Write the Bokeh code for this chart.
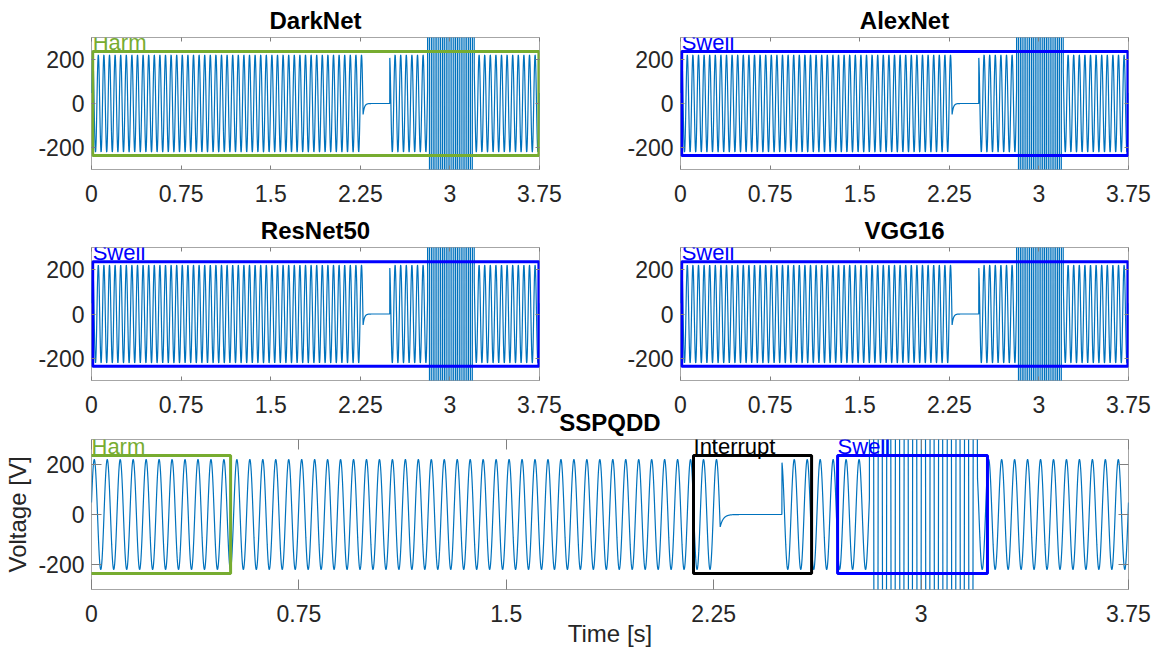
import numpy as np
from bokeh.plotting import figure
from bokeh.models import (Label, FixedTicker, NumeralTickFormatter, LinearAxis,
                          CustomJSTickFormatter, ColumnDataSource)
from bokeh.layouts import column, row
from bokeh.embed import file_html
from bokeh.resources import INLINE

# ---------------- data ----------------
t_end = 3.75                 # length of the record (s, axis units)
n_cycles = 80                # cycles of the fundamental over the record
amplitude = 220              # peak voltage (V)
phase0 = 0.22                # phase at t = 0 (rad)
interrupt_window = [2.2735, 2.497]   # interruption start / end (s)
interrupt_tau = 0.011                # decay of the transient (s)
swell_window = [2.813, 3.204]        # swell start / end (s)
swell_amplitude = 4000               # swell peak (V), far beyond the axis
swell_freq_ratio = 1.5               # swell frequency / fundamental

x_ticks = [0, 0.75, 1.5, 2.25, 3, 3.75]
y_ticks = [-200, 0, 200]

model_titles = ["DarkNet", "AlexNet", "ResNet50", "VGG16"]
model_labels = ["Harm", "Swell", "Swell", "Swell"]
model_box_start = [0.01, 0.01, 0.01, 0.01]
model_box_end = [3.745, 3.745, 3.745, 3.745]

truth_title = "SSPQDD"
truth_labels = ["Harm", "Interrupt", "Swell"]
truth_box_start = [-0.054, 2.177, 2.698]
truth_box_end = [0.503, 2.604, 3.240]

box_low, box_high = -236, 236
label_level = 242

class_colors = {"Harm": "#77AC30", "Swell": "#0000FF", "Interrupt": "#000000"}

# ---------------- signal ----------------
dt = 0.0005
t = np.arange(0, t_end + dt / 2, dt)
t = np.unique(np.concatenate([t, interrupt_window, swell_window]))
f0 = n_cycles / t_end
base = amplitude * np.sin(2 * np.pi * f0 * t + phase0)
v = base.copy()
t1, t2 = interrupt_window
m = (t >= t1) & (t < t2)
v1 = amplitude * np.sin(2 * np.pi * f0 * t1 + phase0)
v[m] = v1 * np.exp(-(t[m] - t1) / interrupt_tau)
ts, te = swell_window
m = (t >= ts) & (t < te)
v[m] = base[m] + swell_amplitude * np.sin(2 * np.pi * f0 * swell_freq_ratio * (t[m] - ts))
signal = ColumnDataSource(dict(t=t, v=v))

FONT = "Liberation Sans"
TXT = "#262626"
FRAME = "#a6a6a6"


def make_panel(width, height, bl, br, bt, bb, tick_len, title,
               labels, starts, ends, xlabel=None, ylabel=None, margin=None):
    kw = {}
    if margin is not None:
        kw["margin"] = margin
    p = figure(width=width, height=height, x_range=(0, t_end), y_range=(-300, 300),
               output_backend="svg", toolbar_location=None,
               min_border_left=bl, min_border_right=br,
               min_border_top=bt, min_border_bottom=bb, **kw)
    p.background_fill_color = "white"
    p.border_fill_color = None
    p.outline_line_color = FRAME
    p.outline_line_width = 1
    p.xgrid.visible = False
    p.ygrid.visible = False

    p.title.text = title
    p.title.align = "center"
    p.title.text_font = FONT
    p.title.text_font_size = "24px"
    p.title.text_font_style = "bold"
    p.title.text_color = "black"
    p.title.standoff = 7

    for ax, ticks, fmt in ((p.xaxis[0], x_ticks, "0.[00]"), (p.yaxis[0], y_ticks, "0")):
        ax.ticker = FixedTicker(ticks=ticks)
        ax.formatter = NumeralTickFormatter(format=fmt)
        ax.axis_line_color = None
        ax.major_tick_in = tick_len
        ax.major_tick_out = 0
        ax.major_tick_line_color = "#7f7f7f"
        ax.minor_tick_line_color = None
        ax.major_label_text_font = FONT
        ax.major_label_text_font_size = "23px"
        ax.major_label_text_color = TXT
    p.xaxis[0].major_label_standoff = 15
    p.yaxis[0].major_label_standoff = 7
    if xlabel:
        p.xaxis[0].axis_label = xlabel
        p.xaxis[0].axis_label_text_font = FONT
        p.xaxis[0].axis_label_text_font_size = "24px"
        p.xaxis[0].axis_label_text_font_style = "normal"
        p.xaxis[0].axis_label_text_color = TXT
        p.xaxis[0].axis_label_standoff = -5
    if ylabel:
        p.yaxis[0].axis_label = ylabel
        p.yaxis[0].axis_label_text_font = FONT
        p.yaxis[0].axis_label_text_font_size = "24px"
        p.yaxis[0].axis_label_text_font_style = "normal"
        p.yaxis[0].axis_label_text_color = TXT
        p.yaxis[0].axis_label_standoff = 4

    # mirrored inward ticks on top and right (box on)
    for place, ticks in (("above", x_ticks), ("right", y_ticks)):
        ax = LinearAxis(ticker=FixedTicker(ticks=ticks),
                        formatter=CustomJSTickFormatter(code="return ''"))
        ax.axis_line_color = None
        ax.major_tick_in = tick_len
        ax.major_tick_out = 0
        ax.major_tick_line_color = "#7f7f7f"
        ax.minor_tick_line_color = None
        ax.major_label_standoff = 0
        ax.major_label_text_font_size = "1px"
        p.add_layout(ax, place)

    p.line(x="t", y="v", source=signal, line_color="#0072BD", line_width=1.2)

    cols = [class_colors[c] for c in labels]
    boxes = ColumnDataSource(dict(left=starts, right=ends,
                                  bottom=[box_low] * len(labels),
                                  top=[box_high] * len(labels), color=cols))
    p.quad(left="left", right="right", bottom="bottom", top="top", source=boxes,
           fill_color=None, line_color="color", line_width=3)
    for lab, x0, c in zip(labels, starts, cols):
        p.add_layout(Label(x=max(x0, 0), y=label_level, y_offset=8, text=lab,
                           text_color=c, text_font=FONT, text_font_size="22px",
                           text_align="left", text_baseline="alphabetic"))
    return p


panels = []
for i, (ttl, lab) in enumerate(zip(model_titles, model_labels)):
    left_col = (i % 2 == 0)
    top_row = (i < 2)
    w = 580 if left_col else 574
    bl = 91 if left_col else 100
    br = 41 if left_col else 26
    if top_row:
        h, bt, bb, mg = 212, 37, 43, None
    else:
        h, bt, bb, mg = 214, 38, 43, (-3, 0, 0, 0)
    panels.append(make_panel(w, h, bl, br, bt, bb, 4, ttl,
                             [lab], [model_box_start[i]], [model_box_end[i]],
                             margin=mg))

bottom = make_panel(1154, 259, 91, 26, 38, 71, 10, truth_title,
                    truth_labels, truth_box_start, truth_box_end,
                    xlabel="Time [s]", ylabel="Voltage [V]", margin=(-22, 0, 0, 0))

layout = column(row(panels[0], panels[1]), row(panels[2], panels[3]), bottom)

open("out.html", "w").write(file_html(layout, INLINE))
